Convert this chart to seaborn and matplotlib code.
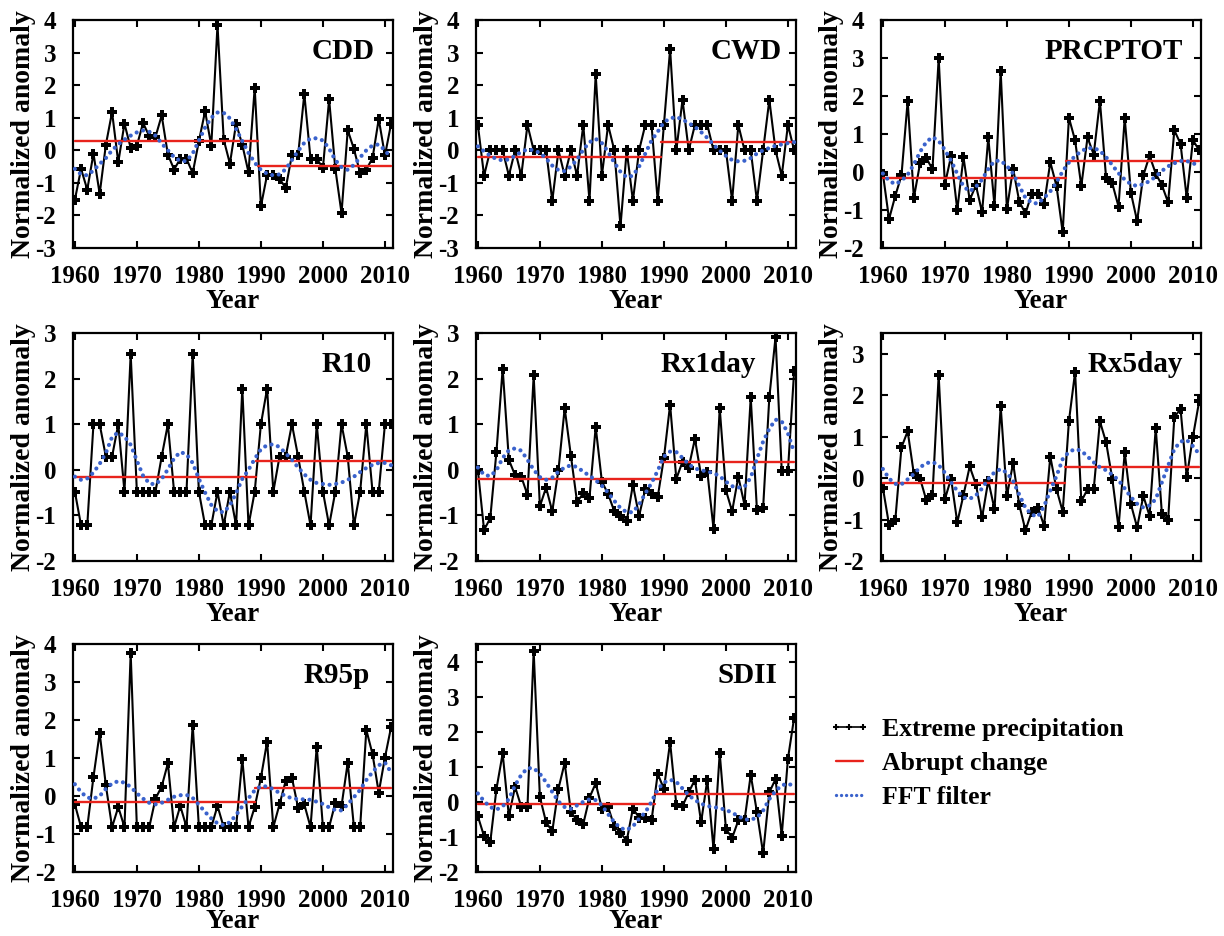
import matplotlib
matplotlib.use("Agg")
import matplotlib.pyplot as plt
from matplotlib.lines import Line2D
import seaborn as sns

# ---------------------------------------------------------------- data
years = list(range(1960, 2012))

indices = ["CDD", "CWD", "PRCPTOT", "R10", "Rx1day", "Rx5day", "R95p", "SDII"]

cdd = [-1.52, -0.57, -1.21, -0.10, -1.34, 0.17, 1.17, -0.37, 0.82, 0.07,
       0.14, 0.84, 0.43, 0.41, 1.07, -0.13, -0.59, -0.26, -0.26, -0.70,
       0.28, 1.20, 0.14, 3.85, 0.33, -0.41, 0.82, 0.17, -0.68, 1.92,
       -1.72, -0.75, -0.77, -0.87, -1.16, -0.15, -0.15, 1.73, -0.26, -0.26,
       -0.54, 1.56, -0.57, -1.93, 0.62, 0.04, -0.70, -0.59, -0.24, 0.96,
       -0.16, 0.82]
cdd_fft = [-0.57, -0.74, -0.77, -0.62, -0.42, -0.24, 0.00, 0.18, 0.33, 0.45,
           0.55, 0.61, 0.57, 0.45, 0.21, 0.00, -0.21, -0.33, -0.33, -0.10,
           0.30, 0.70, 1.00, 1.16, 1.15, 0.98, 0.65, 0.28, -0.08, -0.38,
           -0.60, -0.72, -0.77, -0.74, -0.58, -0.30, -0.02, 0.23, 0.36, 0.37,
           0.30, 0.05, -0.30, -0.52, -0.60, -0.45, -0.22, 0.00, 0.15, 0.18,
           0.00, -0.24]

cwd = [0.78, -0.78, 0.0, 0.0, 0.0, -0.78, 0.0, -0.78, 0.78, 0.0,
       0.0, 0.0, -1.55, 0.0, -0.78, 0.0, -0.78, 0.78, -1.55, 2.33,
       -0.78, 0.78, 0.0, -2.33, 0.0, -1.55, 0.0, 0.78, 0.78, -1.55,
       0.78, 3.10, 0.0, 1.55, 0.0, 0.78, 0.78, 0.78, 0.0, 0.0,
       0.0, -1.55, 0.78, 0.0, 0.0, -1.55, 0.0, 1.55, 0.0, -0.78,
       0.78, 0.0]
cwd_fft = [0.12, -0.03, -0.17, -0.27, -0.31, -0.28, -0.17, -0.05, 0.03, 0.00,
           -0.08, -0.25, -0.47, -0.61, -0.64, -0.50, -0.28, 0.02, 0.25, 0.35,
           0.22, -0.05, -0.38, -0.66, -0.83, -0.78, -0.50, -0.10, 0.30, 0.57,
           0.86, 0.98, 1.02, 0.95, 0.83, 0.72, 0.56, 0.38, 0.17, -0.01,
           -0.17, -0.30, -0.34, -0.32, -0.24, -0.10, 0.00, 0.07, 0.14, 0.18,
           0.22, 0.25]

prcptot = [-0.04, -1.24, -0.63, -0.09, 1.87, -0.68, 0.23, 0.37, 0.07, 3.00,
           -0.33, 0.42, -1.00, 0.39, -0.74, -0.35, -1.06, 0.91, -0.89, 2.65,
           -0.98, 0.09, -0.78, -1.09, -0.57, -0.57, -0.85, 0.26, -0.37, -1.59,
           1.43, 0.83, -0.37, 0.91, 0.46, 1.87, -0.16, -0.30, -0.91, 1.42,
           -0.55, -1.29, -0.09, 0.43, -0.04, -0.35, -0.80, 1.10, 0.74, -0.68,
           0.84, 0.57]
prcptot_fft = [-0.04, -0.23, -0.32, -0.23, -0.07, 0.20, 0.53, 0.79, 0.92, 0.82,
               0.58, 0.30, -0.05, -0.38, -0.51, -0.39, -0.20, 0.08, 0.29, 0.30,
               0.16, -0.04, -0.37, -0.68, -0.81, -0.83, -0.68, -0.51, -0.27, 0.02,
               0.25, 0.42, 0.55, 0.63, 0.63, 0.56, 0.39, 0.18, -0.03, -0.20,
               -0.32, -0.37, -0.32, -0.24, -0.12, 0.03, 0.15, 0.23, 0.29, 0.29,
               0.23, 0.17]

r10 = [-0.48, -1.22, -1.22, 1.00, 1.00, 0.29, 0.29, 1.00, -0.48, 2.54,
       -0.48, -0.48, -0.48, -0.48, 0.29, 1.00, -0.48, -0.48, -0.48, 2.54,
       -0.48, -1.22, -1.22, -0.48, -1.22, -0.48, -1.22, 1.78, -1.22, -0.48,
       1.00, 1.78, -0.48, 0.29, 0.29, 1.00, 0.29, -0.48, -1.22, 1.00,
       -0.48, -1.22, -0.48, 1.00, 0.29, -1.22, -0.48, 1.00, -0.48, -0.48,
       1.00, 1.00]
r10_fft = [-0.15, -0.22, -0.19, -0.06, 0.13, 0.37, 0.72, 0.82, 0.73, 0.55,
           0.20, -0.13, -0.30, -0.32, -0.20, 0.01, 0.25, 0.39, 0.34, 0.15,
           -0.20, -0.50, -0.77, -0.91, -0.93, -0.78, -0.51, -0.20, 0.00, 0.24,
           0.45, 0.54, 0.56, 0.50, 0.36, 0.22, 0.05, -0.10, -0.22, -0.29,
           -0.31, -0.33, -0.31, -0.28, -0.22, -0.15, -0.05, 0.04, 0.11, 0.15,
           0.15, 0.10]

rx1day = [0.00, -1.32, -1.06, 0.40, 2.22, 0.22, -0.12, -0.15, -0.55, 2.07,
          -0.80, -0.39, -0.91, 0.00, 1.35, 0.31, -0.71, -0.51, -0.61, 0.94,
          -0.26, -0.53, -0.91, -1.02, -1.13, -0.33, -1.01, -0.42, -0.53, -0.60,
          0.26, 1.43, -0.20, 0.18, 0.05, 0.68, -0.13, -0.04, -1.29, 1.35,
          -0.45, -0.91, -0.15, -0.77, 1.59, -0.88, -0.83, 1.59, 2.91, -0.02,
          -0.02, 2.17]
rx1day_fft = [0.05, -0.11, -0.14, -0.01, 0.26, 0.43, 0.47, 0.42, 0.22, 0.00,
              -0.16, -0.22, -0.17, -0.04, 0.05, 0.10, 0.06, -0.04, -0.13, -0.23,
              -0.35, -0.50, -0.68, -0.84, -0.93, -0.93, -0.76, -0.52, -0.29, -0.02,
              0.29, 0.40, 0.39, 0.26, 0.12, 0.03, -0.01, -0.04, -0.07, -0.14,
              -0.26, -0.36, -0.39, -0.37, -0.17, 0.24, 0.62, 0.90, 1.10, 1.06,
              0.80, 0.38]

rx5day = [-0.23, -1.13, -1.02, 0.74, 1.13, 0.10, -0.01, -0.53, -0.41, 2.48,
          -0.51, -0.01, -1.07, -0.41, 0.28, -0.15, -0.95, -0.06, -0.75, 1.73,
          -0.43, 0.36, -0.65, -1.26, -0.81, -0.71, -1.15, 0.52, -0.27, -0.81,
          1.37, 2.56, -0.56, -0.27, -0.27, 1.37, 0.86, -0.02, -1.19, 0.62,
          -0.63, -1.19, -0.43, -0.91, 1.21, -0.87, -1.01, 1.47, 1.67, 0.02,
          1.00, 1.85]
rx5day_fft = [0.22, -0.01, -0.14, -0.15, -0.03, 0.10, 0.26, 0.36, 0.39, 0.31,
              0.13, -0.10, -0.31, -0.47, -0.50, -0.42, -0.25, -0.02, 0.14, 0.22,
              0.13, -0.07, -0.40, -0.72, -0.88, -0.93, -0.68, -0.30, 0.05, 0.46,
              0.63, 0.70, 0.66, 0.52, 0.38, 0.26, 0.19, 0.08, -0.05, -0.25,
              -0.46, -0.62, -0.71, -0.66, -0.51, -0.10, 0.30, 0.70, 0.88, 0.92,
              0.77, 0.58]

r95p = [-0.22, -0.82, -0.82, 0.50, 1.66, 0.28, -0.82, -0.29, -0.82, 3.76,
        -0.82, -0.82, -0.82, -0.07, 0.25, 0.86, -0.82, -0.26, -0.82, 1.88,
        -0.82, -0.82, -0.82, -0.26, -0.82, -0.82, -0.82, 0.97, -0.82, -0.29,
        0.48, 1.43, -0.82, -0.22, 0.40, 0.48, -0.31, -0.22, -0.82, 1.30,
        -0.82, -0.82, -0.18, -0.26, 0.88, -0.82, -0.82, 1.74, 1.10, 0.09,
        1.01, 1.82]
r95p_fft = [0.31, 0.10, -0.04, -0.07, 0.00, 0.19, 0.33, 0.39, 0.35, 0.24,
            0.07, -0.07, -0.18, -0.22, -0.18, -0.10, -0.02, 0.02, 0.03, -0.05,
            -0.23, -0.42, -0.59, -0.72, -0.77, -0.69, -0.50, -0.27, -0.06, 0.15,
            0.26, 0.25, 0.18, 0.08, 0.00, -0.06, -0.08, -0.09, -0.10, -0.15,
            -0.21, -0.30, -0.37, -0.38, -0.22, -0.03, 0.16, 0.42, 0.63, 0.81,
            0.88, 0.62]

sdii = [-0.41, -0.98, -1.15, 0.37, 1.38, -0.41, 0.43, -0.14, -0.14, 4.30,
        0.14, -0.58, -0.84, 0.38, 1.11, -0.29, -0.53, -0.63, 0.12, 0.53,
        -0.19, -0.14, -0.70, -0.88, -1.11, -0.19, -0.45, -0.45, -0.53, 0.80,
        0.37, 1.70, -0.08, -0.12, 0.27, 0.63, -0.58, 0.63, -1.35, 1.39,
        -0.77, -1.03, -0.53, -0.53, 0.77, -0.29, -1.47, 0.27, 0.65, -0.96,
        1.23, 2.40]
sdii_fft = [0.24, 0.02, -0.15, -0.22, -0.13, 0.08, 0.47, 0.77, 0.96, 0.96,
            0.80, 0.56, 0.28, 0.01, -0.15, -0.20, -0.10, 0.00, 0.07, 0.05,
            -0.10, -0.35, -0.58, -0.75, -0.80, -0.70, -0.48, -0.30, 0.00, 0.36,
            0.55, 0.63, 0.57, 0.38, 0.19, 0.05, -0.05, -0.12, -0.15, -0.18,
            -0.23, -0.31, -0.41, -0.50, -0.51, -0.45, -0.25, 0.08, 0.31, 0.47,
            0.52, 0.45]

series = [cdd, cwd, prcptot, r10, rx1day, rx5day, r95p, sdii]
filtered = [cdd_fft, cwd_fft, prcptot_fft, r10_fft, rx1day_fft, rx5day_fft,
            r95p_fft, sdii_fft]

# abrupt change: change point and mean level before / after it
change_point = [1989.6, 1989.5, 1989.6, 1989.2, 1989.3, 1989.3, 1989.0, 1988.6]
mean_before = [0.30, -0.20, -0.16, -0.16, -0.20, -0.12, -0.16, -0.05]
mean_after = [-0.48, 0.25, 0.28, 0.20, 0.17, 0.27, 0.20, 0.21]

y_limits = [(-3, 4), (-3, 4), (-2, 4), (-2, 3), (-2, 3), (-2, 3.5), (-2, 4), (-2, 4.5)]

# ---------------------------------------------------------------- style
sns.set_style("ticks")
plt.rcParams.update({
    "font.family": ["Liberation Serif", "DejaVu Serif"],
    "font.weight": "bold",
    "axes.labelweight": "bold",
    "axes.unicode_minus": False,
    "text.color": "black",
    "axes.labelcolor": "black",
    "axes.edgecolor": "black",
    "xtick.color": "black",
    "ytick.color": "black",
})

BLACK = "#000000"
RED = "#e8231c"
BLUE = "#3a62cc"
DOT = (0, (0.01, 1.6))

fig = plt.figure(figsize=(12.24, 9.36), dpi=100)
FW, FH = 1224, 936
col_left = [73, 476, 881]
row_top = [20, 333, 644]
AW, AH = 320, 228
title_right = [0.944, 0.956, 0.944, 0.934, 0.875, 0.944, 0.928, 0.941]
xlabel_pad = [1, 1, -2]

for k, name in enumerate(indices):
    r, c = divmod(k, 3)
    ax = fig.add_axes([col_left[c] / FW, 1 - (row_top[r] + AH) / FH,
                       AW / FW, AH / FH])

    sns.lineplot(x=years, y=series[k], ax=ax, color=BLACK, linewidth=1.5,
                 marker="P", markersize=7.5, markeredgewidth=0,
                 errorbar=None, zorder=3)
    sns.lineplot(x=[years[0], change_point[k]], y=[mean_before[k]] * 2, ax=ax,
                 color=RED, linewidth=1.7, errorbar=None, zorder=4)
    sns.lineplot(x=[change_point[k], years[-1]], y=[mean_after[k]] * 2, ax=ax,
                 color=RED, linewidth=1.7, errorbar=None, zorder=4)
    sns.lineplot(x=years, y=filtered[k], ax=ax, color=BLUE, linewidth=3.0,
                 linestyle=DOT, dash_capstyle="round", errorbar=None, zorder=5)

    lo, hi = y_limits[k]
    ax.set_xlim(1959.7, 2011.3)
    ax.set_ylim(lo, hi)
    ax.set_xticks(range(1960, 2011, 10))
    ax.set_yticks(range(int(lo), int(hi) + 1))
    ax.tick_params(direction="in", top=True, right=True, length=5, width=1.5,
                   labelsize=18)
    ax.tick_params(axis="y", pad=12)
    ax.tick_params(axis="x", pad=12)
    for sp in ax.spines.values():
        sp.set_linewidth(1.6)
        sp.set_color("black")
        sp.set_visible(True)

    ax.set_xlabel("Year", fontsize=19.5, fontweight="bold",
                  labelpad=xlabel_pad[r])
    ax.set_ylabel("Normalized anomaly", fontsize=20, fontweight="bold",
                  labelpad=0)
    ax.text(title_right[k], 0.83, name, transform=ax.transAxes, ha="right",
            va="baseline", fontsize=21, fontweight="bold")

handles = [
    Line2D([], [], color=BLACK, linewidth=1.2, marker="+", markersize=5,
           markeredgewidth=1.5),
    Line2D([], [], color=RED, linewidth=1.7),
    Line2D([], [], color=BLUE, linewidth=2.4, linestyle=(0, (0.01, 1.5)),
           dash_capstyle="round"),
]
labels = ["Extreme precipitation", "Abrupt change", "FFT filter"]
fig.legend(handles, labels, loc="upper left",
           bbox_to_anchor=(828 / FW, 1 - 718 / FH), frameon=False,
           prop={"family": ["Liberation Serif"], "weight": "bold", "size": 18.5},
           handlelength=1.65, handletextpad=0.45, labelspacing=0.42,
           numpoints=3, borderaxespad=0, borderpad=0)

fig.savefig("out.png", dpi=100)
